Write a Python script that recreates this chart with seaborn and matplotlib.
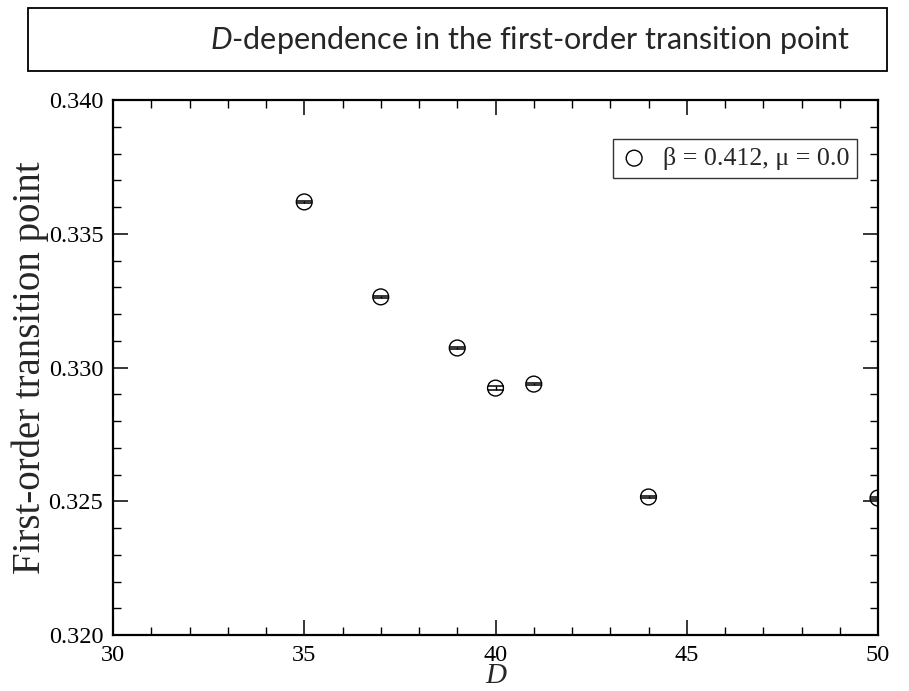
import matplotlib
matplotlib.use('Agg')
import matplotlib.pyplot as plt
import seaborn as sns
import pandas as pd
from matplotlib.patches import Rectangle
from matplotlib.ticker import MultipleLocator, FormatStrFormatter

# ---- data ----
D_values = [35, 37, 39, 40, 41, 44, 50]
transition_points = [0.33619, 0.33264, 0.33073, 0.32923, 0.32938, 0.32516, 0.32512]
errors = [0.00004, 0.00004, 0.00004, 0.00007, 0.00004, 0.00004, 0.00004]
legend_label = "β = 0.412, μ = 0.0"
title_text = r"$\mathit{D}$-dependence in the first-order transition point"
x_label = "D"
y_label = "First-order transition point"

sns.set_theme(style="ticks")
plt.rcParams['font.family'] = ['Liberation Serif', 'DejaVu Serif']
plt.rcParams['mathtext.fontset'] = 'custom'
plt.rcParams['mathtext.rm'] = 'Lato'
plt.rcParams['mathtext.it'] = 'Lato:italic'

W, H = 909, 691
fig = plt.figure(figsize=(W / 100, H / 100), dpi=100)
L, R, T, B = 113, 878, 100, 635
ax = fig.add_axes([L / W, (H - B) / H, (R - L) / W, (B - T) / H])

df = pd.DataFrame({"D": D_values, "tp": transition_points, "err": errors})

ax.errorbar(df["D"], df["tp"], yerr=df["err"], fmt="none", ecolor="black",
            elinewidth=1.0, capsize=5.6, capthick=1.1, zorder=2)
sns.scatterplot(data=df, x="D", y="tp", ax=ax, marker="o", s=130,
                facecolor="none", edgecolor="black", linewidth=1.0,
                label=legend_label, zorder=3)

ax.set_xlim(30, 50)
ax.set_ylim(0.320, 0.340)
ax.xaxis.set_major_locator(MultipleLocator(5))
ax.xaxis.set_minor_locator(MultipleLocator(1))
ax.yaxis.set_major_locator(MultipleLocator(0.005))
ax.yaxis.set_minor_locator(MultipleLocator(0.001))
ax.yaxis.set_major_formatter(FormatStrFormatter("%.3f"))
ax.tick_params(which="both", direction="in", top=True, right=True, colors="black")
ax.tick_params(which="major", length=10.8, width=1.1, labelsize=17.5, pad=7)
ax.tick_params(which="minor", length=5.8, width=1.0)
for sp in ax.spines.values():
    sp.set_linewidth(1.6)
    sp.set_color("black")

ax.set_xlabel(x_label, fontsize=21, fontstyle="italic", labelpad=-2)
ax.set_ylabel(y_label, fontsize=28, labelpad=0)

leg = ax.legend(loc="upper right", bbox_to_anchor=((857 - L) / (R - L), (B - 139) / (B - T)),
                borderaxespad=0, frameon=True, fancybox=False, fontsize=18.7,
                handletextpad=0.6, borderpad=0.3, handlelength=1.0)
leg.get_frame().set_edgecolor("black")
leg.get_frame().set_linewidth(1.0)

# Title box
bx0, bx1, by0, by1 = 28, 887, 8, 71
fig.add_artist(Rectangle((bx0 / W, 1 - by1 / H), (bx1 - bx0) / W, (by1 - by0) / H,
                         transform=fig.transFigure, fill=False, edgecolor="black",
                         linewidth=1.3))
fig.text(851 / W, 1 - (by0 + by1) / 2 / H, title_text, family="Lato",
         fontsize=22, ha="right", va="center")

fig.savefig("out.png", dpi=100)
